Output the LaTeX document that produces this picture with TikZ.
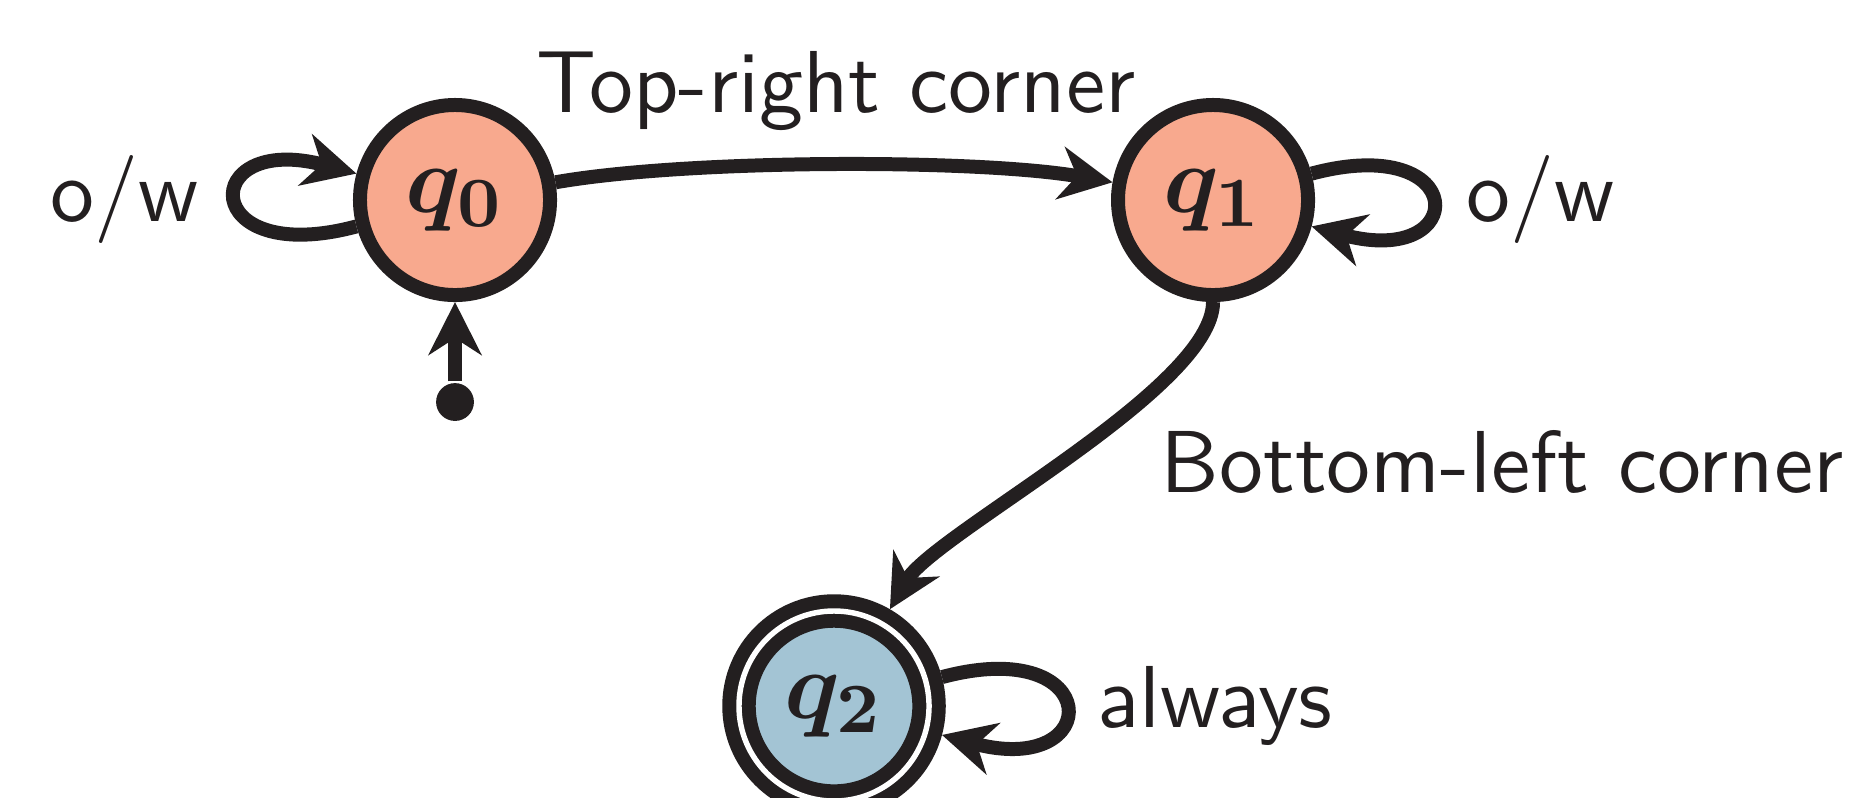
\documentclass[tikz,border=0pt]{standalone}
\usetikzlibrary{arrows.meta}
\definecolor{ink}{HTML}{231F20}
\definecolor{warmfill}{HTML}{F8A98E}
\definecolor{coolfill}{HTML}{A3C4D4}
\begin{document}
\begin{tikzpicture}[
  x=0.11364pt, y=-0.11364pt,
  every loop/.style={},
  txt/.style={text=ink, inner sep=0pt, font=\sffamily\fontsize{10}{12}\selectfont},
  state/.style={circle, draw=ink, line width=1.59pt, minimum size=21.6pt,
    inner sep=0pt, text=ink, font=\fontsize{11.4}{13}\selectfont\boldmath},
  accept/.style={state, double=white, double distance=0.62pt, outer sep=1.9pt},
  arr/.style={draw=ink, line width=1.59pt,
    -{Stealth[length=6pt, width=6pt, inset=1.9pt]}},
]
\useasboundingbox (0,0) rectangle (1860,797);

% states
\node[state, fill=warmfill] (q0) at (455,200) {$q_0$};
\node[state, fill=warmfill] (q1) at (1213,200) {$q_1$};
\node[accept, fill=coolfill] (q2) at (834,706) {$q_2$};

% start marker
\node[circle, fill=ink, inner sep=0pt, minimum size=4.3pt] (init) at (455,402) {};

% transitions
\draw[arr] (init) -- (q0);
\draw[arr] (q0) to[out=10, in=170, looseness=0.62] (q1);
\draw[arr] (q1) to[out=-90, in=60, looseness=0.5] (q2);
\path (q0) edge[arr, loop left, looseness=8] (q0);
\path (q1) edge[arr, loop right, looseness=8] (q1);
\path (q2) edge[arr, loop right, looseness=7.5] (q2);

% transition labels
\node[txt, anchor=base] (l01) at (836,112) {Top-right corner};
\node[txt, anchor=base] (l12) at (1502,492) {Bottom-left corner};
\node[txt, anchor=base] (l00) at (125,221) {o/w};
\node[txt, anchor=base] (l11) at (1540,221) {o/w};
\node[txt, anchor=base] (l22) at (1215,727) {always};
\end{tikzpicture}
\end{document}
